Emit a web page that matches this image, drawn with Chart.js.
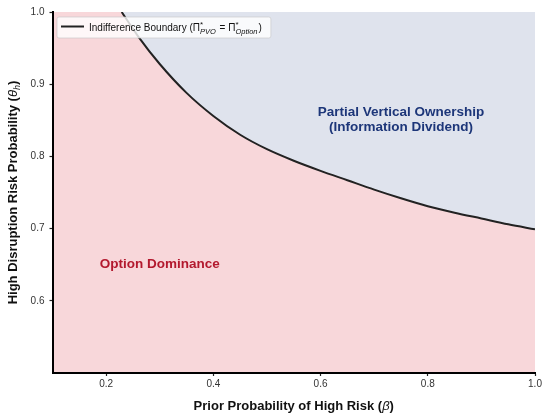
<!DOCTYPE html>
<html>
<head>
<meta charset="utf-8">
<script src="https://cdn.jsdelivr.net/npm/chart.js@4.4.1/dist/chart.umd.min.js"></script>
<style>
    html, body { margin: 0; padding: 0; background: #fff; }
    #wrap { width: 550px; height: 418px; }
</style>
</head>
<body>
<div id="wrap"><canvas id="chart"></canvas></div>
<script>
// boundary
const boundaryBeta  = [0.229, 0.26, 0.30, 0.35, 0.40, 0.45, 0.50, 0.55, 0.60, 0.65, 0.70, 0.75, 0.80, 0.85, 0.90, 0.95, 1.00];
const boundaryTheta = [1.000, 0.966, 0.928, 0.888, 0.856, 0.830, 0.810, 0.794, 0.780, 0.767, 0.754, 0.742, 0.731, 0.722, 0.714, 0.706, 0.699];
const xTicks = [0.2, 0.4, 0.6, 0.8, 1.0];
const yTicks = [0.6, 0.7, 0.8, 0.9, 1.0];

const pinkFill = '#f8d7da';
const blueFill = '#dfe3ed';
const fontFam = '"Liberation Sans", Arial, Helvetica, sans-serif';

// draws text made of several runs (used for sub/superscripts)
function runWidth(ctx, r) {
    if (r.sub !== undefined) {
        ctx.font = r.supFont;
        const a = ctx.measureText(r.sup).width;
        ctx.font = r.subFont;
        const b = ctx.measureText(r.sub).width;
        return Math.max(a, b) + 1;
    }
    ctx.font = r.font;
    return ctx.measureText(r.text).width;
}

function drawRuns(ctx, runs, x, y, align) {
    let total = 0;
    runs.forEach(r => total += runWidth(ctx, r));
    let cx = align == 'center' ? x - total / 2 : x;
    ctx.textAlign = 'left';
    ctx.textBaseline = 'alphabetic';
    runs.forEach(r => {
        const w = runWidth(ctx, r);
        if (r.sub !== undefined) {
            ctx.font = r.supFont;
            ctx.fillText(r.sup, cx, y - 4);
            ctx.font = r.subFont;
            ctx.fillText(r.sub, cx, y + 3);
        } else {
            ctx.font = r.font;
            ctx.fillText(r.text, cx, y + (r.dy || 0));
        }
        cx += w;
    });
    return total;
}

// pink under everything, so the axis lines stay on top
const areaBackground = {
    id: 'areaBackground',
    beforeDraw(chart) {
        const { ctx, chartArea: a } = chart;
        ctx.save();
        ctx.fillStyle = pinkFill;
        ctx.fillRect(a.left, a.top, a.right - a.left, a.bottom - a.top);
        ctx.restore();
    }
};

const annotations = {
    id: 'annotations',
    afterDatasetsDraw(chart) {
        const ctx = chart.ctx;
        const xs = chart.scales.x, ys = chart.scales.y;
        const a = chart.chartArea;
        ctx.save();

        // region labels
        ctx.fillStyle = '#1d3679';
        ctx.font = 'bold 13.5px ' + fontFam;
        ctx.textAlign = 'center';
        ctx.textBaseline = 'middle';
        ctx.fillText('Partial Vertical Ownership', xs.getPixelForValue(0.75), ys.getPixelForValue(0.861));
        ctx.fillText('(Information Dividend)', xs.getPixelForValue(0.75), ys.getPixelForValue(0.840));
        ctx.fillStyle = '#b3192e';
        ctx.fillText('Option Dominance', xs.getPixelForValue(0.30), ys.getPixelForValue(0.65));

        // legend
        const base = 'px ' + fontFam;
        const legendRuns = [
            { text: 'Indifference Boundary (\u03A0', font: '10' + base },
            { sup: '*', sub: 'PVO', supFont: '8' + base, subFont: 'italic 7.5' + base },
            { text: ' = \u03A0', font: '10' + base },
            { sup: '*', sub: 'Option', supFont: '8' + base, subFont: 'italic 7.5' + base },
            { text: ')', font: '10' + base }
        ];
        let tw = 0;
        legendRuns.forEach(r => tw += runWidth(ctx, r));
        const bx = a.left + 4.5, by = a.top + 5, bh = 21, bw = 36 + tw + 5;
        ctx.fillStyle = 'rgba(255,255,255,0.8)';
        ctx.strokeStyle = 'rgba(200,200,200,0.8)';
        ctx.lineWidth = 0.8;
        ctx.beginPath();
        ctx.roundRect(bx, by, bw, bh, 2);
        ctx.fill();
        ctx.stroke();
        ctx.strokeStyle = '#222';
        ctx.lineWidth = 2;
        ctx.beginPath();
        ctx.moveTo(bx + 4, by + 9.5);
        ctx.lineTo(bx + 27, by + 9.5);
        ctx.stroke();
        ctx.fillStyle = '#111';
        drawRuns(ctx, legendRuns, bx + 32, by + 13.5, 'left');

        ctx.restore();
    },
    afterDraw(chart) {
        const ctx = chart.ctx;
        const a = chart.chartArea;
        const base = 'px ' + fontFam;
        ctx.save();
        ctx.fillStyle = '#111';
        // x title
        drawRuns(ctx, [
            { text: 'Prior Probability of High Risk (', font: 'bold 13' + base },
            { text: '\u03B2', font: 'italic 13' + base },
            { text: ')', font: 'bold 13' + base }
        ], (a.left + a.right) / 2, 410, 'center');
        // y title
        ctx.translate(17, (a.top + a.bottom) / 2);
        ctx.rotate(-Math.PI / 2);
        drawRuns(ctx, [
            { text: 'High Disruption Risk Probability (', font: 'bold 13' + base },
            { text: '\u03B8', font: 'italic 13' + base },
            { text: 'h', font: 'italic 9' + base, dy: 3 },
            { text: ')', font: 'bold 13' + base }
        ], 0, 0, 'center');
        ctx.restore();
    }
};

const points = boundaryBeta.map((b, i) => ({ x: b, y: boundaryTheta[i] }));

new Chart('chart', {
    type: 'line',
    data: {
        datasets: [{
            label: 'Indifference Boundary',
            data: points,
            borderColor: '#222',
            borderWidth: 2,
            pointRadius: 0,
            cubicInterpolationMode: 'monotone',
            fill: 'end',
            backgroundColor: blueFill
        }]
    },
    options: {
        responsive: true,
        maintainAspectRatio: false,
        animation: false,
        layout: { padding: { top: 12, right: 15, left: 0, bottom: 0 } },
        plugins: {
            legend: { display: false },
            tooltip: { enabled: false }
        },
        scales: {
            x: {
                type: 'linear',
                min: 0.1,
                max: 1.0,
                afterBuildTicks: s => { s.ticks = xTicks.map(v => ({ value: v })); },
                afterFit: s => { s.height = 45; },
                ticks: {
                    padding: 2,
                    color: '#333',
                    font: { family: fontFam, size: 10 },
                    callback: v => v.toFixed(1)
                },
                grid: { drawOnChartArea: false, tickLength: 3, tickColor: '#222', tickWidth: 1.2 },
                border: { color: '#000', width: 2 }
            },
            y: {
                min: 0.5,
                max: 1.0,
                afterBuildTicks: s => { s.ticks = yTicks.map(v => ({ value: v })); },
                afterFit: s => { s.width = 52.5; },
                ticks: {
                    padding: 5,
                    color: '#333',
                    font: { family: fontFam, size: 10 },
                    callback: v => v.toFixed(1)
                },
                grid: { drawOnChartArea: false, tickLength: 3, tickColor: '#222', tickWidth: 1.2 },
                border: { color: '#000', width: 2 }
            }
        }
    },
    plugins: [areaBackground, annotations]
});
</script>
</body>
</html>
